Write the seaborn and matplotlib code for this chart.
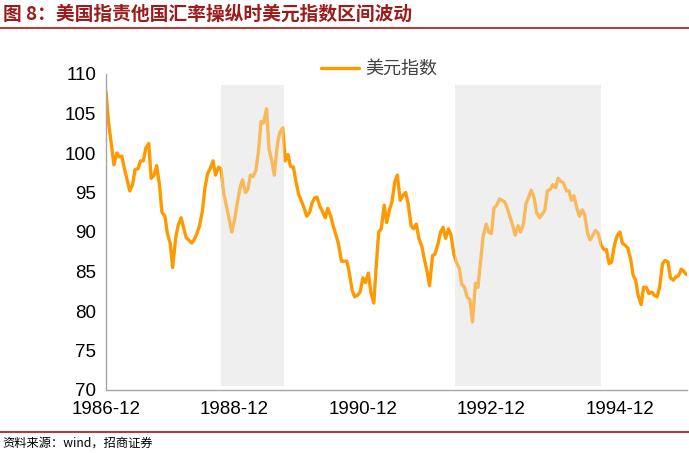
import numpy as np
import pandas as pd
import matplotlib.pyplot as plt
import seaborn as sns
from matplotlib.lines import Line2D

sns.set_style('white')
plt.rcParams['font.family'] = ['Liberation Sans', 'Noto Sans CJK SC']
plt.rcParams['axes.unicode_minus'] = False

# 美元指数, semi-monthly readings from 1986-12
start_date = '1986-12-01'
dxy = [
    107.8, 104.0, 101.0, 98.5, 100.0, 99.5, 99.6, 98.1, 96.5, 95.2,
    96.0, 97.9, 98.0, 99.0, 99.0, 100.6, 101.2, 96.8, 97.2, 98.4,
    96.0, 92.5, 92.0, 89.8, 88.6, 85.5, 89.2, 90.8, 91.8, 90.6,
    89.3, 89.0, 88.6, 89.0, 89.8, 90.7, 92.6, 95.5, 97.4, 98.0,
    99.0, 97.2, 98.2, 98.0, 94.8, 93.4, 91.5, 90.0, 91.5, 93.4,
    95.6, 96.6, 95.0, 95.4, 97.2, 97.0, 97.8, 100.0, 104.0, 103.8,
    105.6, 100.5, 99.0, 97.2, 101.0, 102.6, 103.2, 99.0, 99.8, 98.3,
    98.2, 96.4, 94.7, 94.0, 93.0, 92.0, 92.5, 93.7, 94.3, 94.4,
    93.2, 92.6, 91.8, 93.0, 92.0, 90.8, 89.6, 88.5, 86.3, 86.3,
    86.3, 84.8, 82.6, 81.8, 82.0, 82.4, 84.2, 83.6, 84.8, 82.4,
    81.0, 85.8, 90.0, 90.4, 93.4, 91.2, 92.8, 93.8, 96.4, 97.2,
    94.0, 94.6, 95.0, 93.6, 90.8, 90.4, 91.0, 89.2, 88.2, 86.6,
    85.0, 83.2, 87.0, 87.2, 88.5, 90.0, 90.6, 89.2, 90.4, 89.6,
    87.2, 86.2, 85.4, 83.4, 83.0, 81.8, 81.4, 78.6, 83.5, 83.0,
    86.5, 89.5, 91.0, 90.0, 89.8, 93.0, 93.4, 94.2, 94.0, 93.8,
    93.0, 92.0, 90.8, 89.6, 90.8, 90.0, 91.0, 93.6, 94.4, 95.3,
    94.3, 92.4, 91.8, 92.2, 92.8, 95.2, 95.4, 96.0, 95.6, 96.8,
    96.4, 96.2, 95.2, 95.2, 94.0, 94.6, 93.0, 92.0, 92.8, 92.2,
    89.8, 89.0, 89.6, 90.2, 89.8, 88.4, 87.8, 87.8, 86.0, 86.2,
    88.4, 89.5, 90.0, 88.6, 88.3, 88.0, 86.5, 84.5, 83.9, 82.0,
    80.8, 83.0, 83.0, 82.2, 82.4, 82.0, 81.8, 83.0, 86.0, 86.4,
    86.2, 84.2, 83.9, 84.3, 84.5, 85.3, 85.0, 84.6,
]

# periods of US currency-manipulation accusations
span_starts = ['1988-09-15', '1992-05-10']
span_ends = ['1989-09-08', '1994-08-15']

tick_dates = ['1986-12-01', '1988-12-01', '1990-12-01', '1992-12-01', '1994-12-01']
tick_labels = ['1986-12', '1988-12', '1990-12', '1992-12', '1994-12']

df = pd.DataFrame({
    'date': pd.date_range(start_date, periods=len(dxy), freq='SMS'),
    'dxy': dxy,
})

fig = plt.figure(figsize=(6.89, 4.53), dpi=100)
ax = fig.add_axes([106 / 689, 63 / 453, 581 / 689, 316 / 453])

shade = '#EFEFEF'
for s, e in zip(span_starts, span_ends):
    ax.fill_between(pd.to_datetime([s, e]), 70.5, 108.6, color=shade, lw=0, zorder=0)

sns.lineplot(data=df, x='date', y='dxy', ax=ax, color='#FF9900',
             linewidth=2.4, label='美元指数', zorder=2)

# wash out the line inside the shaded periods
for s, e in zip(span_starts, span_ends):
    ax.fill_between(pd.to_datetime([s, e]), 70.5, 108.6, color=shade,
                    alpha=0.38, lw=0, zorder=3)

ax.set_ylim(70, 110)
ax.set_yticks(np.arange(70, 111, 5))
ax.set_xlim(pd.Timestamp('1986-12-01'), pd.Timestamp('1995-12-18'))
ax.set_xticks(pd.to_datetime(tick_dates))
ax.set_xticklabels(tick_labels)
ax.set_xlabel('')
ax.set_ylabel('')

for side in ['top', 'right']:
    ax.spines[side].set_visible(False)
for side in ['left', 'bottom']:
    ax.spines[side].set_color('#A6A6A6')
    ax.spines[side].set_linewidth(1.0)
ax.tick_params(axis='both', direction='out', length=5, width=1,
               color='#A6A6A6', labelsize=13.5, labelcolor='black', pad=2)
ax.tick_params(axis='x', pad=3)

leg = ax.legend(loc='center', bbox_to_anchor=(0.47, 1.016), frameon=False,
                handlelength=2.1, handletextpad=0.35,
                prop={'family': 'Noto Sans CJK SC', 'size': 13, 'weight': 'light'})
for t in leg.get_texts():
    t.set_color('#404040')

cjk = ['Noto Sans CJK SC', 'DejaVu Sans']
fig.text(0.004, 1 - 14 / 453, '图 8：美国指责他国汇率操纵时美元指数区间波动',
         fontsize=13.5, fontweight='bold', color='#9E1B1B', va='center', family=cjk)
fig.add_artist(Line2D([0, 1], [1 - 27.5 / 453] * 2, transform=fig.transFigure,
                      color='#B01010', lw=1.2))
fig.add_artist(Line2D([0, 1], [1 - 432 / 453] * 2, transform=fig.transFigure,
                      color='#B01010', lw=1.2))
fig.text(0.004, 1 - 443 / 453, '资料来源：wind，招商证券', fontsize=8.8,
         color='black', va='center', family=cjk)

fig.savefig('out.png', dpi=100)
